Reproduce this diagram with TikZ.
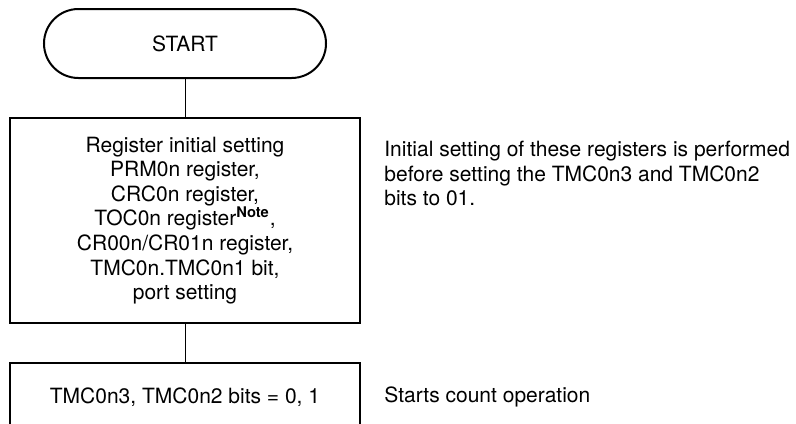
\documentclass[tikz,border=0pt]{standalone}
\usepackage{fontspec}
\setmainfont{TeX Gyre Heros}
\usetikzlibrary{positioning}
\tikzset{
    termbox/.style={rectangle, rounded corners=17.25pt, draw=black, line width=1pt,
        minimum width=141pt, minimum height=34.5pt},
    procbox/.style={rectangle, draw=black, line width=1pt, align=center,
        minimum width=175pt, inner sep=0pt},
    sidenote/.style={align=left, inner sep=0pt},
    link/.style={line width=0.5pt},
}
\begin{document}
\begin{tikzpicture}[node distance=19pt, font=\fontsize{10.5pt}{12.3pt}\selectfont]
    \clip (0,0) rectangle (398pt,-211.5pt);
    \node[termbox] (start) at (92.5pt,-21.75pt) {START};
    \node[procbox, minimum height=102.5pt, below=of start] (reg) {Register initial setting\\
        PRM0n register,\\CRC0n register,\\TOC0n register\textsuperscript{\textbf{Note}},\\
        CR00n/CR01n register,\\TMC0n.TMC0n1 bit,\\port setting};
    \node[procbox, minimum height=34pt, below=of reg] (cnt) {TMC0n3, TMC0n2 bits = 0, 1};
    \node[sidenote, below right=12pt and 11.5pt of reg.north east] (regnote)
        {Initial setting of these registers is performed\\
        before setting the TMC0n3 and TMC0n2\\bits to 01.};
    \node[sidenote, right=11.5pt of cnt] (cntnote) {Starts count operation};
    \draw[link] (start) -- (reg);
    \draw[link] (reg) -- (cnt);
\end{tikzpicture}
\end{document}
